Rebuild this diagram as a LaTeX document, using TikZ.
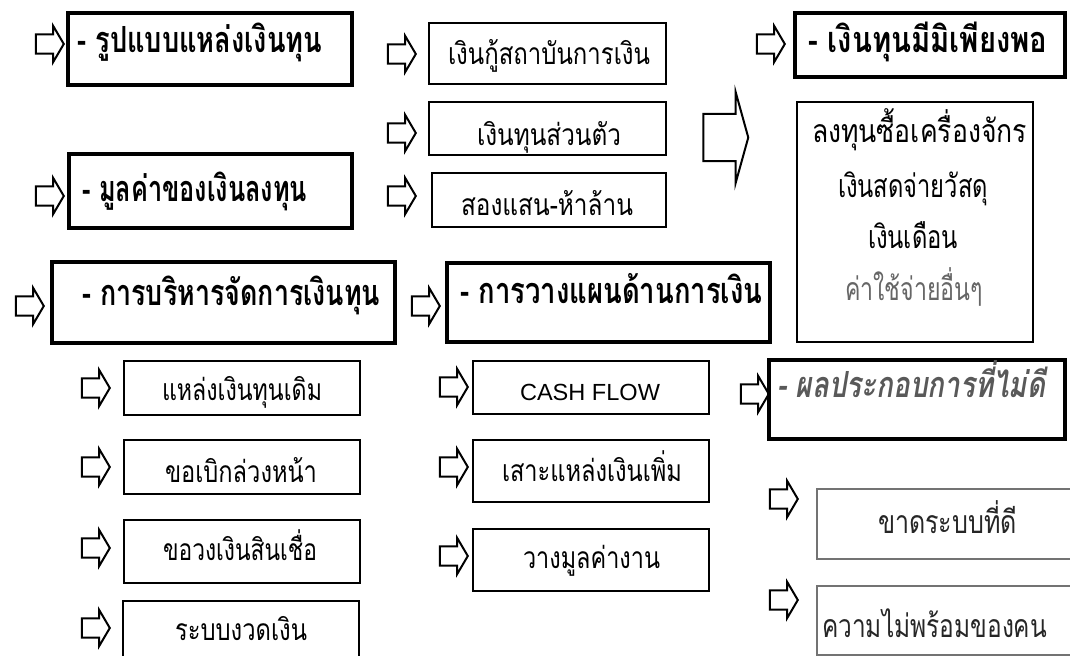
\documentclass[tikz,border=0pt]{standalone}
\usepackage{fontspec}
\newfontfamily\thai[Script=Thai]{Loma}
\setmainfont{Liberation Sans}
\usetikzlibrary{shapes.arrows,fit}
\newdimen\pxu \pxu=0.75pt
\newcommand{\tw}[2]{\resizebox{#1\pxu}{\height}{#2}}
\begin{document}
\begin{tikzpicture}[x=0.75pt,y=-0.75pt,
  sarr/.style={single arrow, draw, line width=1.5pt, inner xsep=0pt, inner ysep=6.4pt,
    single arrow head extend=6.4pt, minimum height=21pt, single arrow tip angle=119, outer sep=0pt},
  bigarr/.style={single arrow, draw, line width=1.5pt, inner xsep=0pt, inner ysep=16.9pt,
    single arrow head extend=16.5pt, minimum height=33.75pt, single arrow tip angle=149, outer sep=0pt},
  headbox/.style={draw, line width=2.3pt, inner sep=0pt},
  itembox/.style={draw, line width=1.3pt, inner sep=0pt},
  graybox/.style={draw=black!55, line width=1.5pt, inner sep=0pt},
  headtxt/.style={anchor=base west, inner sep=0pt, font=\thai\bfseries\fontsize{27}{29}\selectfont},
  itxt/.style={anchor=base, inner sep=0pt, font=\thai\fontsize{22.5}{25}\selectfont},
  btxt/.style={anchor=base, inner sep=0pt, font=\thai\fontsize{24}{27}\selectfont}
]
\useasboundingbox (0,0) rectangle (1070,656);
\fill[white] (0,0) rectangle (1070,656);
\clip (0,0) rectangle (1070,656);

% heading boxes
\node[headbox, fit={(68,13)(352,85)}] (b1) {};
\node[headtxt] (t1) at (77,53) {\tw{245}{- รูปแบบแหล่งเงินทุน}};
\node[headbox, fit={(69,154)(352,228)}] (b2) {};
\node[headtxt] (t2) at (82,202) {\tw{225}{- มูลค่าของเงินลงทุน}};
\node[headbox, fit={(52,262)(395,343)}] (b3) {};
\node[headtxt] (t3) at (82,305) {\tw{298}{- การบริหารจัดการเงินทุน}};
\node[headbox, fit={(447,263)(770,342)}] (b4) {};
\node[headtxt] (t4) at (460,303) {\tw{302}{- การวางแผนด้านการเงิน}};
\node[headbox, fit={(795,13)(1065,77)}] (b5) {};
\node[headtxt] (t5) at (808,53) {\tw{239}{- เงินทุนมีมิเพียงพอ}};
\node[headbox, fit={(769,360)(1065,439)}] (b6) {};
\node[headtxt, text=black!65, font=\thai\bfseries\itshape\fontsize{27}{29}\selectfont] (t6) at (777,397) {\tw{268}{- ผลประกอบการที่ไม่ดี}};

% item boxes
\node[itembox, fit={(429,23)(666,84)}] (i1) {};
\node[itxt] (i1t) at (549,65) {\tw{202}{เงินกู้สถาบันการเงิน}};
\node[itembox, fit={(429,102)(666,155)}] (i2) {};
\node[itxt] (i2t) at (549,146) {\tw{144}{เงินทุนส่วนตัว}};
\node[itembox, fit={(432,173)(666,227)}] (i3) {};
\node[itxt] (i3t) at (547,215) {\tw{172}{สองแสน-ห้าล้าน}};

\node[itembox, fit={(124,361)(360,415)}] (l1) {};
\node[itxt] (l1t) at (242,400) {\tw{160}{แหล่งเงินทุนเดิม}};
\node[itembox, fit={(124,440)(360,494)}] (l2) {};
\node[itxt] (l2t) at (241,482) {\tw{152}{ขอเบิกล่วงหน้า}};
\node[itembox, fit={(124,520)(360,583)}] (l3) {};
\node[itxt] (l3t) at (240,560) {\tw{154}{ขอวงเงินสินเชื่อ}};
\node[itembox, fit={(123,601)(359,672)}] (l4) {};
\node[itxt] (l4t) at (241,640) {\tw{132}{ระบบงวดเงิน}};

\node[itembox, fit={(473,361)(709,414)}] (m1) {};
\node[itxt, font=\fontsize{17.5}{20}\selectfont] (m1t) at (590,400) {\tw{140}{CASH FLOW}};
\node[itembox, fit={(473,440)(709,502)}] (m2) {};
\node[itxt] (m2t) at (592,481) {\tw{180}{เสาะแหล่งเงินเพิ่ม}};
\node[itembox, fit={(473,529)(709,591)}] (m3) {};
\node[itxt] (m3t) at (591.5,568) {\tw{137}{วางมูลค่างาน}};

\node[graybox, fit={(817,489)(1076,559)}] (r1) {};
\node[btxt, text=black!85] (r1t) at (947.5,533) {\tw{139}{ขาดระบบที่ดี}};
\node[graybox, fit={(817,586)(1076,655)}] (r2) {};
\node[btxt, text=black!85] (r2t) at (934.5,637) {\tw{225}{ความไม่พร้อมของคน}};

% big list box
\node[draw, line width=1.6pt, inner sep=0pt, fit={(797,102)(1033,342)}] (big) {};
\node[btxt] (g1) at (919.5,143) {\tw{215}{ลงทุนซื้อเครื่องจักร}};
\node[btxt] (g2) at (913,197) {\tw{150}{เงินสดจ่ายวัสดุ}};
\node[btxt] (g3) at (913,248) {\tw{90}{เงินเดือน}};
\node[btxt, text=black!60] (g4) at (914,300) {\tw{138}{ค่าใช้จ่ายอื่นๆ}};

% arrows
\node[sarr] (a1) at (47,44) {};
\node[sarr] (a2) at (399,54) {};
\node[sarr] (a3) at (399,133) {};
\node[sarr] (a4) at (399,196) {};
\node[sarr] (a5) at (768,44) {};
\node[sarr] (a6) at (47,196) {};
\node[sarr] (a7) at (27,306) {};
\node[sarr] (a8) at (423,306) {};
\node[sarr] (a9) at (93,388) {};
\node[sarr] (a10) at (93,467) {};
\node[sarr] (a11) at (93,548) {};
\node[sarr] (a12) at (93,628) {};
\node[sarr] (a13) at (451,387) {};
\node[sarr] (a14) at (451,467) {};
\node[sarr] (a15) at (451,556) {};
\node[sarr] (a16) at (752,394) {};
\node[sarr] (a17) at (781,499) {};
\node[sarr] (a18) at (781,600) {};
\node[bigarr] (ba) at (722.5,137.5) {};
\end{tikzpicture}
\end{document}
